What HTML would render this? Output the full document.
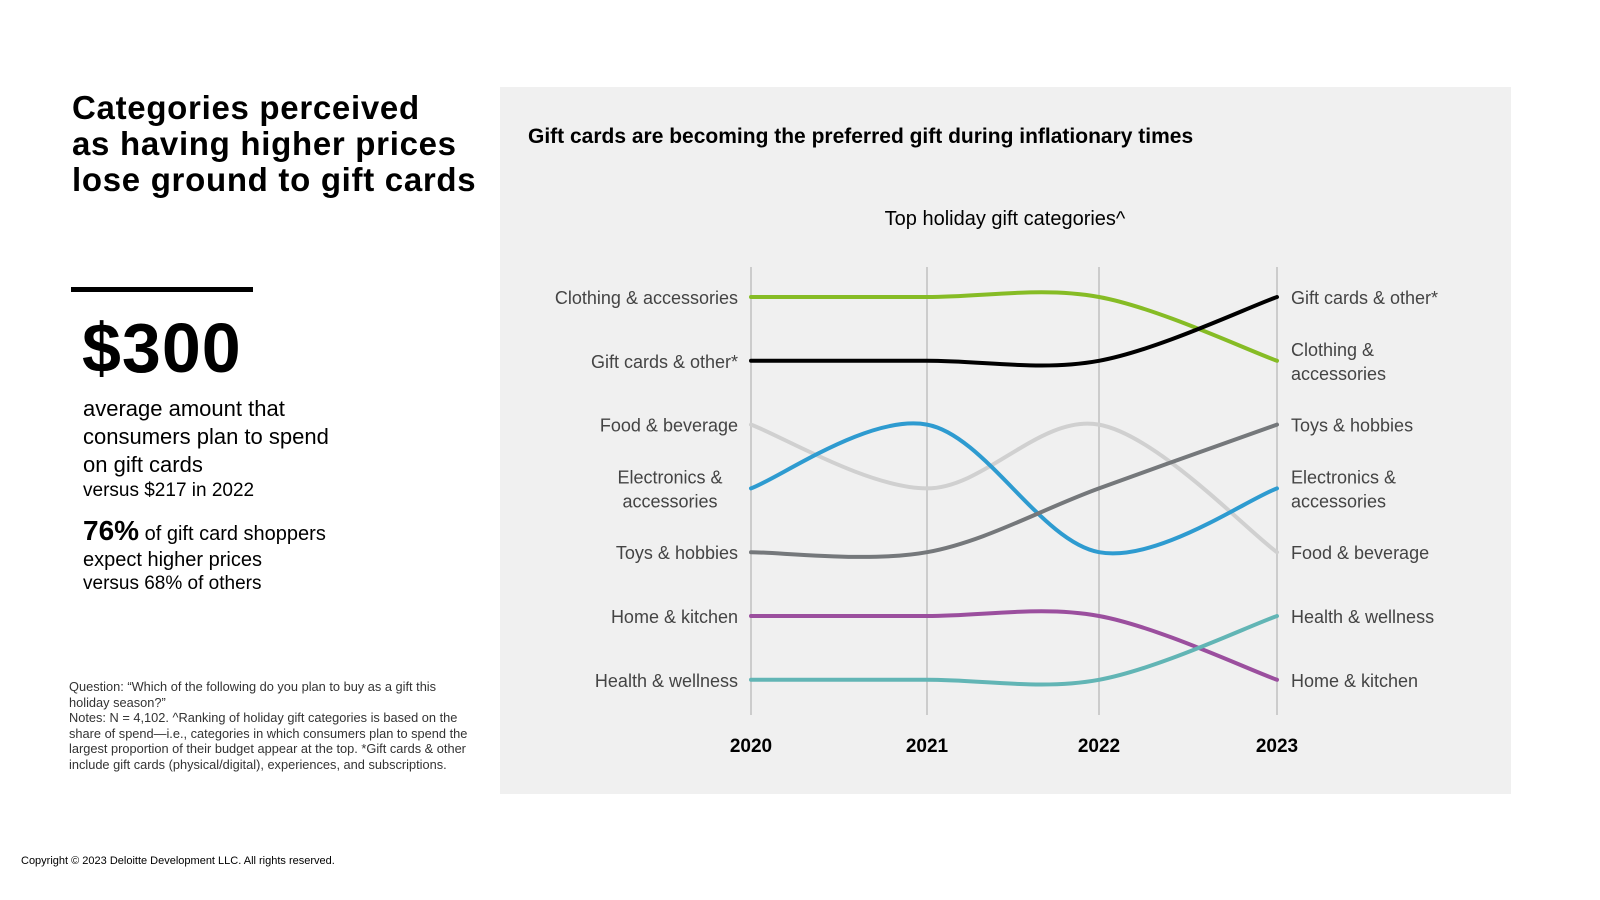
<!DOCTYPE html>
<html><head><meta charset="utf-8"><style>
body{margin:0;width:1600px;height:900px;background:#fff;font-family:"Liberation Sans","DejaVu Sans",sans-serif;position:relative;overflow:hidden}
.a{position:absolute}
</style></head><body>
<div class="a" style="left:72px;top:90px;font-size:33px;font-weight:bold;line-height:36px;letter-spacing:0.7px;color:#000">Categories perceived<br>as having higher prices<br>lose ground to gift cards</div>
<div class="a" style="left:71px;top:287px;width:182px;height:5px;background:#000"></div>
<div class="a" style="left:82px;top:308px;font-size:70px;font-weight:bold;letter-spacing:1px;color:#000">$300</div>
<div class="a" style="left:83px;top:395px;font-size:22px;line-height:28px;color:#000">average amount that<br>consumers plan to spend<br>on gift cards<div style="font-size:19px;line-height:24px">versus $217 in 2022</div></div>
<div class="a" style="left:83px;top:518px;font-size:20px;line-height:26px;color:#000"><b style="font-size:28px">76%</b> of gift card shoppers<br>expect higher prices<div style="font-size:19px;line-height:22px">versus 68% of others</div></div>
<div class="a" style="left:69px;top:679px;width:400px;font-size:12.8px;line-height:15.5px;color:#333">Question: “Which of the following do you plan to buy as a gift this holiday season?”<br>Notes: N = 4,102. ^Ranking of holiday gift categories is based on the share of spend—i.e., categories in which consumers plan to spend the largest proportion of their budget appear at the top. *Gift cards &amp; other include gift cards (physical/digital), experiences, and subscriptions.</div>
<div class="a" style="left:21px;top:855px;font-size:11px;color:#000">Copyright © 2023 Deloitte Development LLC. All rights reserved.</div>
<div class="a" style="left:500px;top:87px;width:1011px;height:707px;background:#f0f0f0"></div>
<div class="a" style="left:528px;top:125px;font-size:21px;font-weight:bold;color:#000">Gift cards are becoming the preferred gift during inflationary times</div>
<svg class="a" style="left:0;top:0" width="1600" height="900" id="chart"></svg>
<script>
const years=["2020","2021","2022","2023"];
const categories=["Clothing & accessories","Gift cards & other*","Food & beverage","Electronics & accessories","Toys & hobbies","Home & kitchen","Health & wellness"];
const clothingRanks=[1,1,1,2];
const giftRanks=[2,2,2,1];
const foodRanks=[3,4,3,5];
const electronicsRanks=[4,3,5,4];
const toysRanks=[5,5,4,3];
const homeRanks=[6,6,6,7];
const healthRanks=[7,7,7,6];
const series=[clothingRanks,giftRanks,foodRanks,electronicsRanks,toysRanks,homeRanks,healthRanks];
const colors=["#86bc25","#000000","#d0d0d0","#2e9bd0","#75787b","#9b4f9e","#62b5b5"];
const leftLabels=[["Clothing & accessories"],["Gift cards & other*"],["Food & beverage"],["Electronics &","accessories"],["Toys & hobbies"],["Home & kitchen"],["Health & wellness"]];
const rightLabels=[["Gift cards & other*"],["Clothing &","accessories"],["Toys & hobbies"],["Electronics &","accessories"],["Food & beverage"],["Health & wellness"],["Home & kitchen"]];
const ns="http://www.w3.org/2000/svg",svg=document.getElementById('chart');
const xs=[751,927,1099,1277];
const x=i=>xs[i];
const y=r=>297+(r-1)*63.8;
function mk(t,a,p){const e=document.createElementNS(ns,t);for(const k in a)e.setAttribute(k,a[k]);(p||svg).appendChild(e);return e;}
let t=mk('text',{x:1005,y:225,'text-anchor':'middle','font-size':20,fill:'#000'});t.textContent="Top holiday gift categories^";


years.forEach((yr,i)=>{
 const l=mk('line',{x1:x(i),x2:x(i),y1:267,y2:715,stroke:'#cccccc','stroke-width':2});
 
 
 const tx=mk('text',{x:x(i),y:752,'text-anchor':'middle','font-size':19,'font-weight':'bold',fill:'#000'});tx.textContent=yr;
 
 
});
series.forEach((s,k)=>{
 const p=s.map((r,i)=>[x(i),y(r)]);
 let d=`M${p[0][0]},${p[0][1]}`;
 for(let i=0;i<p.length-1;i++){
  const p0=p[Math.max(i-1,0)],p1=p[i],p2=p[i+1],p3=p[Math.min(i+2,p.length-1)];
  const c1=[p1[0]+(p2[0]-p0[0])/6,p1[1]+(p2[1]-p0[1])/6];
  const c2=[p2[0]-(p3[0]-p1[0])/6,p2[1]-(p3[1]-p1[1])/6];
  d+=` C${c1[0]},${c1[1]} ${c2[0]},${c2[1]} ${p2[0]},${p2[1]}`;
 }
 const path=mk('path',{d:d,fill:'none',stroke:colors[k],'stroke-width':4,'stroke-linecap':'round'});
 
 
});
function lab(lines,r,xx,anchor,name){
 const yy=y(r);
 lines.forEach((s,j)=>{
  const o=lines.length==1?7:(j==0?-5:19);
  const e=mk('text',{x:xx,y:yy+o,'text-anchor':anchor,'font-size':18,fill:'#444'});e.textContent=s;
  
  
 });
}
leftLabels.forEach((l,i)=>lab(l,i+1,l.length>1?670:738,l.length>1?'middle':'end','left-label'));
rightLabels.forEach((l,i)=>lab(l,i+1,1291,'start','right-label'));
</script>
</body></html>
